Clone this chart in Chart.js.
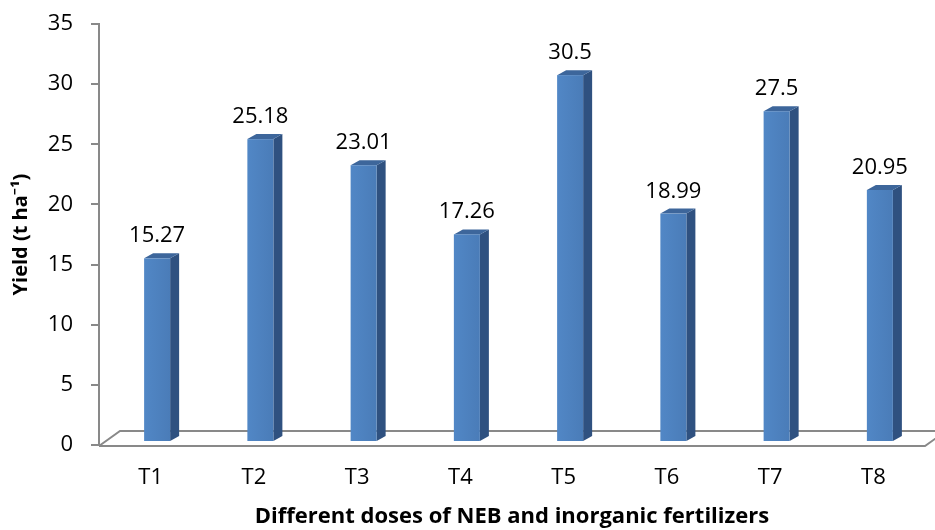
<!DOCTYPE html>
<html>
<head>
<meta charset="utf-8">
<script src="https://cdn.jsdelivr.net/npm/chart.js@4.4.0/dist/chart.umd.min.js"></script>
<style>
  html, body { margin: 0; padding: 0; background: #fff; }
  #wrap { width: 935px; height: 530px; position: relative; }
</style>
</head>
<body>
<div id="wrap"><canvas id="yieldChart"></canvas></div>
<script>
// Chart data
const treatments = ['T1', 'T2', 'T3', 'T4', 'T5', 'T6', 'T7', 'T8'];
const yieldValues = [15.27, 25.18, 23.01, 17.26, 30.5, 18.99, 27.5, 20.95];
const yTicks = [0, 5, 10, 15, 20, 25, 30, 35];

const axisGray = '#898989';
const fontFamily = '"Open Sans", "Noto Sans", sans-serif';

// Fake 3D look: bars sit a bit back on the floor, with a side and a top face
const barShift = { x: 6.5, y: -3 };
const barDepth = { x: 9, y: -5 };
const floorDepth = { x: 21, y: -15 };

const bar3dPlugin = {
    id: 'bar3d',
    beforeDatasetsDraw(chart) {
        const ctx = chart.ctx;
        const area = chart.chartArea;
        const floorY = chart.scales.y.getPixelForValue(0) + 1;

        // Floor outline
        ctx.save();
        ctx.strokeStyle = axisGray;
        ctx.lineWidth = 2;
        ctx.beginPath();
        ctx.moveTo(area.left, floorY);
        ctx.lineTo(area.right, floorY);
        ctx.lineTo(area.right + floorDepth.x, floorY + floorDepth.y);
        ctx.moveTo(area.left, floorY);
        ctx.lineTo(area.left + floorDepth.x, floorY + floorDepth.y);
        ctx.lineTo(area.right + floorDepth.x, floorY + floorDepth.y);
        ctx.stroke();
        ctx.restore();
    },
    afterDatasetsDraw(chart) {
        const ctx = chart.ctx;
        const meta = chart.getDatasetMeta(0);
        ctx.save();
        meta.data.forEach((bar, i) => {
            const left = bar.x - bar.width / 2 + barShift.x;
            const right = left + bar.width;
            const top = bar.y + barShift.y;
            const bottom = bar.base + barShift.y;

            // side face
            ctx.fillStyle = '#2f5180';
            ctx.beginPath();
            ctx.moveTo(right, top);
            ctx.lineTo(right + barDepth.x, top + barDepth.y);
            ctx.lineTo(right + barDepth.x, bottom + barDepth.y);
            ctx.lineTo(right, bottom);
            ctx.closePath();
            ctx.fill();

            // top face
            ctx.fillStyle = '#3d669b';
            ctx.beginPath();
            ctx.moveTo(left, top);
            ctx.lineTo(left + barDepth.x, top + barDepth.y);
            ctx.lineTo(right + barDepth.x, top + barDepth.y);
            ctx.lineTo(right, top);
            ctx.closePath();
            ctx.fill();

            // front face with a soft gradient
            const grad = ctx.createLinearGradient(left, 0, right, 0);
            grad.addColorStop(0, '#5187c6');
            grad.addColorStop(1, '#4a7cb8');
            ctx.fillStyle = grad;
            ctx.fillRect(left, top, bar.width, bottom - top);

            // value label
            ctx.fillStyle = '#000';
            ctx.font = '22px ' + fontFamily;
            ctx.textAlign = 'center';
            ctx.textBaseline = 'alphabetic';
            ctx.fillText(String(yieldValues[i]), left + bar.width / 2, top - 16);
        });
        ctx.restore();
    }
};

const ctx = document.getElementById('yieldChart');

new Chart(ctx, {
    type: 'bar',
    data: {
        labels: treatments,
        datasets: [{
            label: 'Yield',
            data: yieldValues,
            backgroundColor: 'rgba(0,0,0,0)',
            borderWidth: 0,
            categoryPercentage: 1,
            barPercentage: 0.252
        }]
    },
    options: {
        responsive: true,
        maintainAspectRatio: false,
        animation: false,
        layout: {
            padding: { top: 0, right: 10, bottom: 0, left: 0 }
        },
        plugins: {
            legend: { display: false },
            tooltip: { enabled: false }
        },
        scales: {
            x: {
                grid: { display: false, drawTicks: false },
                border: { display: false },
                ticks: {
                    color: '#000',
                    padding: 20,
                    font: { size: 22, family: fontFamily }
                },
                title: {
                    display: true,
                    text: 'Different doses of NEB and inorganic fertilizers',
                    color: '#000',
                    padding: 0,
                    font: { size: 22, weight: 'bold', family: fontFamily }
                },
                afterFit: function(scale) {
                    scale.height = 85;
                }
            },
            y: {
                min: 0,
                max: 35,
                afterBuildTicks: function(scale) {
                    scale.ticks = yTicks.map(v => ({ value: v }));
                },
                grid: {
                    drawOnChartArea: false,
                    color: axisGray,
                    lineWidth: 2,
                    tickLength: 8
                },
                border: { color: axisGray, width: 2 },
                ticks: {
                    color: '#000',
                    padding: 18,
                    font: { size: 22, family: fontFamily }
                },
                title: {
                    display: true,
                    text: 'Yield (t ha⁻¹)',
                    color: '#000',
                    padding: { top: 9, bottom: 0 },
                    font: { size: 20, weight: 'bold', family: fontFamily }
                },
                afterFit: function(scale) {
                    scale.width = 99;
                    // top of the axis sits 24px below the canvas edge
                    scale.paddingTop = 24;
                }
            }
        }
    },
    plugins: [bar3dPlugin]
});
</script>
</body>
</html>
